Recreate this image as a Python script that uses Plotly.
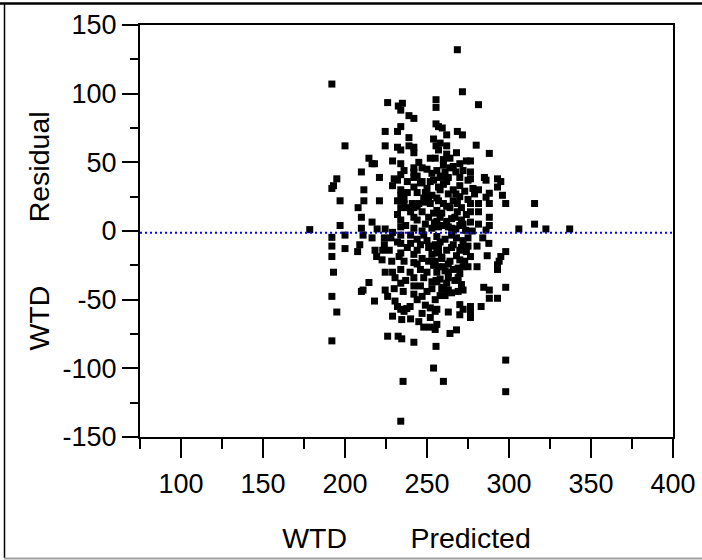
import plotly.graph_objects as go

# ---- data ----
PRED = [
    # upper-left block
    192, 226, 232.5, 235, 234, 239, 242, 255.5, 255.5, 234, 232, 224.5, 239, 255.5, 257,
    200, 224.5, 232, 234, 242, 239, 254, 255.5, 257, 242, 214.6, 216.5, 218, 229, 234,
    252, 255, 210, 221, 242, 242, 242, 247, 230, 229, 234, 232, 195, 193, 192,
    211.5, 234, 234, 242, 247, 253, 254, 257, 253, 249, 251, 197, 211.5, 221, 232,
    236, 241, 245, 249, 208, 234, 238, 242, 210, 232, 242, 254, 197, 216.5, 210,
    219.6, 224.5, 229, 234, 234, 242, 247, 254.5, 178.5,
    # upper-right block
    268.5, 271.6, 281.4, 259.3, 262, 268.5, 271.6, 280, 288, 262, 264, 276.5, 270,
    260, 264, 261, 276.5, 276.5, 285, 286, 293, 295, 293, 270, 270, 267.6, 263, 258, 260,
    281.4, 288, 286, 288, 296, 298, 315.6, 276.5, 276.5, 281.4, 281.4, 268.5, 268.5, 264,
    267.6, 260, 256, 259, 256, 288, 288, 281.4, 276.5, 272, 315.6, 306, 322.5, 337,
    263, 267.6, 273.5, 277.6, 256, 260, 265, 286,
    # lower-left block
    192, 192, 192, 200, 200, 193, 192, 195, 192, 211, 216.5, 209, 207.7, 218.3, 219.3,
    222.6, 228.5, 224, 224, 223, 234, 234, 234, 233, 240, 240, 242, 242, 248, 251, 253, 256,
    224.5, 229, 234, 230.5, 234, 239.7, 242, 242, 242, 239.7, 237.7, 248, 253, 255.5,
    214.6, 211, 210, 224.5, 226, 218, 230.5, 232, 234, 236, 235.5, 247, 255, 255,
    229, 234.6, 252, 252, 255, 226, 232.4, 234.6, 242, 255.5, 254, 235.4, 234,
    # lower-right block
    298, 298, 260, 264, 268, 256, 263, 270, 270, 272, 276.5, 276.5, 276.5, 283, 288, 293,
    284.6, 288, 298, 293, 294, 293, 298, 295, 286.7, 276.5, 275, 280.5, 275, 280.5, 284,
    287.7, 275, 270, 270, 272, 269, 269, 271, 272, 269, 263, 261, 260, 256, 256, 258, 256,
    263, 263, 260, 263, 259, 257, 265,
    # dense fill, right of centre below the line
    256, 258, 261, 265, 268, 272, 257, 262, 266, 271, 274, 259, 264, 268, 273, 257, 261,
    266, 270, 258, 262, 267, 259, 265, 255, 255,
    # dense fill, right of centre above the line
    256, 259, 262, 258, 263, 266, 270, 273, 257, 262, 266, 271, 275, 258, 262, 267, 271,
    274, 257, 265, 270, 260, 266, 272, 275, 278, 279, 274, 268, 262, 258,
    # dense fill, left of centre above the line
    244, 246, 250, 252, 244, 248, 252, 244, 247, 251, 244, 249, 253, 238, 236, 240, 237,
    245, 250, 236, 238,
    # dense fill, left of centre below the line
    244, 246, 250, 253, 244, 247, 251, 254, 244, 246, 250, 253, 246, 250, 244, 249, 252,
    247, 236, 238, 232, 228, 237, 230, 227, 240, 245, 248,
]

RESID = [
    # upper-left block
    107, 93.5, 91, 93, 88, 84, 82, 95.6, 90, 76, 72.5, 72.5, 68, 78, 76,
    62, 62, 61, 59, 61, 62, 67, 62, 59, 57, 53, 49, 49, 51, 49,
    53, 53, 43, 39, 46, 43, 39, 46, 38, 33, 41, 37, 38, 33, 31,
    30, 30, 26, 32, 36, 42, 37, 32, 26, 28, 25, 22, 22, 22, 22,
    23, 20, 20, 21, 17, 17, 17, 17, 10, 12, 10, 13, 4, 6.5, 2,
    1.5, 1.5, -1, 8, 3, 2, 0, 6, 1,
    # upper-right block
    132, 101.4, 92, 75, 70, 72.5, 70, 62.5, 56.5, 56, 53, 51, 49,
    48, 46, 43, 43, 38, 39, 37, 38, 36, 32, 39, 33, 43, 39, 39, 34,
    30, 27.5, 24.6, 20, 26, 20, 20, 20, 14, 20, 14, 20, 14, 17,
    27, 20, 24, 13, 15, 10, 4, 5, 6.5, 5, 5, 1.5, 1.5, 1.5,
    3, 1.5, 0.5, 0, 7, 4, 9, 0.7,
    # lower-left block
    -4.6, -11, -18.6, -3, -12.8, -30, -47.6, -59, -80, -3, -5, -10, -15, -14, -18.6,
    -21, -22, -5, -10, -14, -3, -9, -16, -18.6, -3, -9, -17, -23, -3, -12, -17, -15,
    -30, -30, -28, -34, -38, -30, -34, -40, -46, -55, -56.5, -34, -37, -36,
    -37.5, -43, -44, -43, -47.6, -51, -51, -55, -57, -58.5, -44, -47.6, -50, -58.5,
    -62, -64.5, -63, -70, -71.7, -76.6, -76.6, -78.5, -81, -84, -99.8, -109.5, -138.5,
    # lower-right block
    -94, -117, -109.5, -74.6, -72, -68, -59, -53.6, -61, -57, -55, -59.4, -63, -55, -49, -49,
    -41, -43, -41, -28, -22, -24.6, -15, -18.6, -18, -18.6, -26, -26, -11, -11, -5,
    -9, -5, -14, -21, -26, -27, -34, -39, -43, -44, -43, -47, -41, -30, -37, -47, -57,
    -30, -34, -26, -24, -19, -16, -12,
    # dense fill, right of centre below the line
    -4, -8, -6, -3, -5, -7, -12, -14, -10, -12, -15, -20, -22, -18, -22, -26, -29,
    -28, -31, -35, -38, -36, -42, -45, -22, -10,
    # dense fill, right of centre above the line
    44, 40, 36, 30, 27, 30, 25, 29, 22, 18, 22, 17, 23, 10, 7, 10, 8,
    12, 3, 2, 4, 52, 47, 44, 37, 31, 27, 51, 57, 62, 64,
    # dense fill, left of centre above the line
    40, 35, 31, 36, 28, 24, 20, 18, 14, 10, 8, 5, 2, 28, 20, 14, 4,
    50, 45, 44, 36,
    # dense fill, left of centre below the line
    -6, -10, -7, -11, -14, -20, -22, -25, -24, -28, -30, -42, -40, -44, -50, -54, -56,
    -60, -22, -12, -8, -5, -36, -42, -14, -64, -66, -70,
]

MEAN_LINE = -1.3
X_TICKS = [100, 150, 200, 250, 300, 350, 400]
X_TICK_LABELS = ["100", "150", "200", "250", "300", "350", "400"]
Y_TICKS = [-150, -100, -50, 0, 50, 100, 150]
Y_TICK_LABELS = ["-150", "-100", "-50", "0", "50", "100", "150"]
X_RANGE = [75, 400]
Y_RANGE = [-150, 150]
AXIS_TITLE_X = "WTD" + "\u00a0" * 8 + "Predicted"
AXIS_TITLE_Y = "WTD" + "\u00a0" * 8 + "Residual"

FONT = "Liberation Sans, Arial, sans-serif"

fig = go.Figure()
fig.add_trace(go.Scatter(
    x=PRED, y=RESID, mode="markers",
    marker=dict(symbol="square", size=7, color="black", line=dict(width=0)),
    hoverinfo="x+y", showlegend=False,
))

fig.add_shape(type="line", xref="x", yref="y", x0=X_RANGE[0], x1=X_RANGE[1],
              y0=MEAN_LINE, y1=MEAN_LINE, layer="above",
              line=dict(color="#0000ff", width=2, dash="2px,3px"))

# outer frame of the picture (cropped report border)
W, H = 702, 560
L, R, T, B = 140, 29, 25, 123
pw, ph = W - L - R, H - T - B
def px(xp): return (xp - L) / pw
def py(yp): return (H - B - yp) / ph
fig.add_shape(type="line", xref="paper", yref="paper", x0=px(0), x1=px(W),
              y0=py(3.5), y1=py(3.5), line=dict(color="black", width=2.5))
fig.add_shape(type="line", xref="paper", yref="paper", x0=px(4.5), x1=px(4.5),
              y0=py(3), y1=py(558), line=dict(color="black", width=1.5))
fig.add_shape(type="line", xref="paper", yref="paper", x0=px(4), x1=px(W),
              y0=py(558.5), y1=py(558.5), line=dict(color="#a0a0a0", width=2))

fig.update_layout(
    width=W, height=H,
    margin=dict(l=L, r=R, t=T, b=B, autoexpand=False),
    paper_bgcolor="white", plot_bgcolor="white",
    font=dict(family=FONT, color="black"),
    showlegend=False,
)
fig.update_xaxes(
    range=X_RANGE, tickvals=X_TICKS, ticktext=X_TICK_LABELS, ticks="outside",
    ticklen=19, tickwidth=2, ticklabelstandoff=3,
    tickcolor="black", showline=True, linecolor="black", linewidth=2, mirror=True,
    showgrid=False, zeroline=False, tickfont=dict(size=27, family=FONT),
    minor=dict(dtick=25, tick0=75, ticks="outside", ticklen=10, tickwidth=2,
               tickcolor="black", showgrid=False),
    title=dict(text=AXIS_TITLE_X, font=dict(size=28.5, family=FONT), standoff=30),
)
fig.update_yaxes(
    range=Y_RANGE, tickvals=Y_TICKS, ticktext=Y_TICK_LABELS, ticks="outside",
    ticklen=16, tickwidth=2,
    tickcolor="black", showline=True, linecolor="black", linewidth=2, mirror=True,
    showgrid=False, zeroline=False, tickfont=dict(size=27, family=FONT),
    minor=dict(dtick=25, tick0=0, ticks="outside", ticklen=8, tickwidth=2,
               tickcolor="black", showgrid=False),
    title=dict(text=AXIS_TITLE_Y, font=dict(size=28.5, family=FONT), standoff=5),
)

fig.write_html("out.html")
